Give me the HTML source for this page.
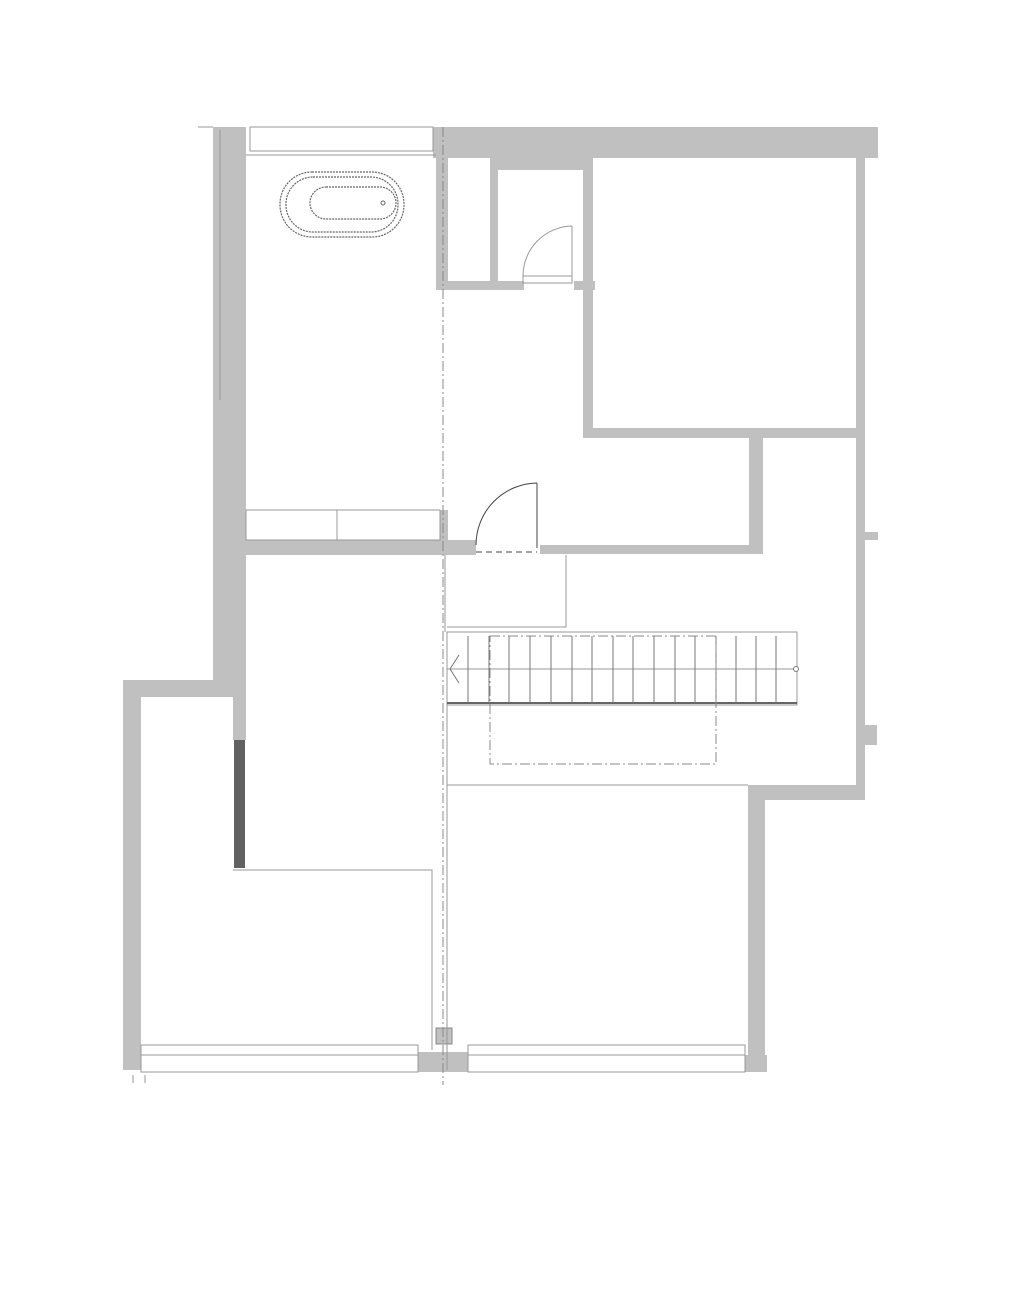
<!DOCTYPE html>
<html><head><style>html,body{margin:0;padding:0;background:#fff;}svg{display:block;}</style></head>
<body>
<svg width="1017" height="1298" viewBox="0 0 1017 1298" xmlns="http://www.w3.org/2000/svg">
<g fill="#c0c0c0" stroke="none">
<!-- left wall upper -->
<rect x="213" y="127" width="33" height="553"/>
<rect x="233" y="680" width="13" height="60"/>
<rect x="123" y="680" width="110" height="17"/>
<rect x="123" y="680" width="18" height="390"/>
<!-- top wall -->
<rect x="433" y="127" width="445" height="31"/>
<rect x="498" y="155" width="85" height="15"/>
<!-- closets -->
<rect x="436" y="155" width="12" height="135"/>
<rect x="490" y="155" width="8" height="135"/>
<rect x="436" y="281" width="88" height="9"/>
<rect x="574" y="281" width="21" height="9"/>
<!-- right room -->
<rect x="583" y="155" width="10" height="283"/>
<rect x="583" y="428" width="282" height="10"/>
<rect x="856" y="155" width="9" height="640"/>
<rect x="865" y="532" width="13" height="8"/>
<rect x="865" y="725" width="12" height="20"/>
<rect x="749" y="428" width="14" height="126"/>
<rect x="540" y="545" width="223" height="9"/>
<!-- corridor wall -->
<rect x="245" y="540" width="231" height="15"/>
<rect x="440" y="510" width="8" height="40"/>
<!-- bottom right -->
<rect x="748" y="785" width="17" height="275"/>
<rect x="748" y="785" width="117" height="15"/>
<rect x="418" y="1052" width="50" height="20"/>
<rect x="745" y="1055" width="22" height="17"/>
<rect x="436" y="1028" width="16" height="16" stroke="#888" stroke-width="1"/>
</g>
<rect x="234" y="740" width="11" height="128" fill="#616161"/>
<g fill="none" stroke="#999" stroke-width="1">
<!-- top window -->
<rect x="250" y="127" width="183" height="24"/>
<line x1="246" y1="155" x2="436" y2="155"/>
<line x1="198" y1="127" x2="213" y2="127"/>
<line x1="220" y1="130" x2="220" y2="400"/>
<!-- cabinet -->
<rect x="246" y="510" width="194" height="30"/>
<line x1="337" y1="510" x2="337" y2="540"/>
<!-- corridor outline -->
<polyline points="445,555 445,632"/>
<polyline points="566,555 566,627 447,627"/>
<!-- stair -->
<rect x="447" y="632" width="350" height="73"/>
<line x1="447" y1="669" x2="797" y2="669"/>
<line x1="447" y1="703" x2="797" y2="703" stroke="#666" stroke-width="2"/>
<!-- lower box -->
<polyline points="447,705 447,785 748,785"/>
<polyline points="447,785 447,1070"/>
<!-- L lower wall -->
<polyline points="233,870 432,870 432,1050"/>
<!-- windows bottom -->
<rect x="141" y="1045" width="277" height="10"/>
<rect x="141" y="1055" width="277" height="17"/>
<rect x="468" y="1045" width="277" height="10"/>
<rect x="468" y="1055" width="277" height="17"/>
<line x1="133" y1="1075" x2="133" y2="1083"/>
<line x1="145" y1="1075" x2="145" y2="1083"/>
<!-- door small closet -->
<path d="M572 226 A50 50 0 0 0 523 276" />
<line x1="572" y1="226" x2="572" y2="282"/>
<rect x="523" y="276" width="49" height="7"/>
</g>
<!-- stair treads -->
<g stroke="#777" stroke-width="1">
<line x1="468" y1="636" x2="468" y2="703"/><line x1="489" y1="636" x2="489" y2="703"/>
<line x1="509" y1="636" x2="509" y2="703"/><line x1="530" y1="636" x2="530" y2="703"/>
<line x1="551" y1="636" x2="551" y2="703"/><line x1="572" y1="636" x2="572" y2="703"/>
<line x1="592" y1="636" x2="592" y2="703"/><line x1="613" y1="636" x2="613" y2="703"/>
<line x1="633" y1="636" x2="633" y2="703"/><line x1="654" y1="636" x2="654" y2="703"/>
<line x1="675" y1="636" x2="675" y2="703"/><line x1="695" y1="636" x2="695" y2="703"/>
<line x1="716" y1="636" x2="716" y2="703"/><line x1="736" y1="636" x2="736" y2="703"/>
<line x1="756" y1="636" x2="756" y2="703"/><line x1="776" y1="636" x2="776" y2="703"/>
<polyline points="459,655 450,669 459,683" fill="none"/>
<circle cx="796" cy="669" r="2.5" fill="#fff"/>
</g>
<!-- dash-dot lines -->
<g fill="none" stroke="#888" stroke-width="1" stroke-dasharray="10,3,2,3">
<line x1="443" y1="127" x2="443" y2="1085"/>
<rect x="490" y="636" width="226" height="128"/>
</g>
<!-- main door -->
<g fill="none" stroke="#444" stroke-width="1">
<path d="M537 483 A62 62 0 0 0 476 545"/>
<line x1="537" y1="483" x2="537" y2="548"/>
<line x1="476" y1="552" x2="537" y2="552" stroke-dasharray="6,4"/>
</g>
<!-- bathtub -->
<g fill="none" stroke="#666" stroke-width="1.2" stroke-dasharray="2,1">
<rect x="280" y="172" width="124" height="65" rx="32"/>
<rect x="286" y="177" width="112" height="55" rx="27"/>
<rect x="310" y="187" width="86" height="32" rx="16"/>
</g>
<circle cx="383" cy="203" r="2" fill="none" stroke="#666"/>
</svg>
</body></html>
